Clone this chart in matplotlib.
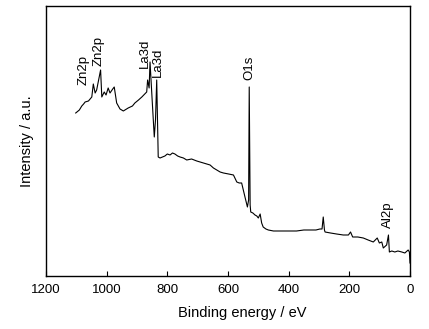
import matplotlib
matplotlib.use("Agg")
import matplotlib.pyplot as plt

plt.rcParams['font.family'] = ['Liberation Sans', 'DejaVu Sans']

# XPS survey spectrum: binding energy (eV) and intensity (arbitrary units)
binding_energy = [1102, 1090, 1082, 1076, 1071, 1060, 1049, 1044, 1038, 1033, 1020, 1016,
                  1008, 1002, 995, 989, 980, 975, 967, 956, 945, 929, 915, 907, 895,
                  884, 868, 865, 860, 857, 850, 843, 839, 835, 830, 824, 816, 808, 800,
                  791, 783, 775, 766, 758, 747, 736, 720, 703, 692, 681, 670, 659, 648,
                  637, 626, 615, 598, 582, 571, 563, 555, 544, 536, 532, 530, 527, 525,
                  518, 511, 505, 500, 494, 489, 484, 475, 467, 450, 429, 400, 374, 350,
                  330, 310, 297, 290, 286, 282, 280, 262, 242, 220, 203, 196, 189, 172,
                  154, 138, 121, 108, 101, 93, 88, 77, 71, 68, 60, 50, 40, 27, 17, 6, 2, 0]
intensity = [163, 166, 170, 172, 174, 175, 179, 192, 183, 186, 206, 179,
             184, 181, 188, 183, 187, 189, 173, 167, 165, 168, 170, 173, 176,
             179, 184, 196, 188, 214, 176, 139, 156, 196, 119, 118, 119, 120, 122,
             121, 123, 122, 120, 119, 118, 116, 117, 115, 114, 113, 112, 111, 108,
             106, 104, 103, 102, 101, 94, 93, 93, 79, 69, 76, 189, 71, 64,
             63, 61, 60, 58, 62, 53, 49, 47, 46, 45, 45, 45, 45, 46,
             46, 46, 47, 47, 59, 46, 44, 43, 42, 41, 41, 44, 39, 39,
             38, 36, 34, 38, 33, 34, 28, 31, 41, 24, 25, 24, 25, 24, 23, 26, 24, 13]

# Peak assignments: (label, energy, bottom of text in intensity units)
peak_labels = ["Zn2p", "Zn2p", "La3d", "La3d", "O1s", "Al2p"]
label_energy = [1075, 1028, 873, 832, 530, 71]
label_base = [191, 210, 208, 199, 196, 48]

fig = plt.figure(figsize=(4.29, 3.29), dpi=100)
ax = fig.add_axes([0.1072, 0.1611, 0.8485, 0.8207])

ax.plot(binding_energy, intensity, color='black', linewidth=0.8)

for name, e, b in zip(peak_labels, label_energy, label_base):
    ax.text(e, b, name, rotation=90, ha='center', va='bottom', fontsize=9.5)

ax.set_xlim(1200, 0)
ax.set_ylim(0, 270)
ax.set_xticks([1200, 1000, 800, 600, 400, 200, 0])
ax.tick_params(axis='x', direction='in', length=3.6, width=0.8, labelsize=9.5, pad=6)
ax.set_yticks([])
for s in ax.spines.values():
    s.set_linewidth(1.0)

ax.set_xlabel("Binding energy / eV", fontsize=10.5, labelpad=6)
ax.xaxis.set_label_coords(0.54, -0.11)
ax.set_ylabel("Intensity / a.u.", fontsize=10.5)
ax.yaxis.set_label_coords(-0.033, 0.5)

fig.savefig("out.png", dpi=100)
